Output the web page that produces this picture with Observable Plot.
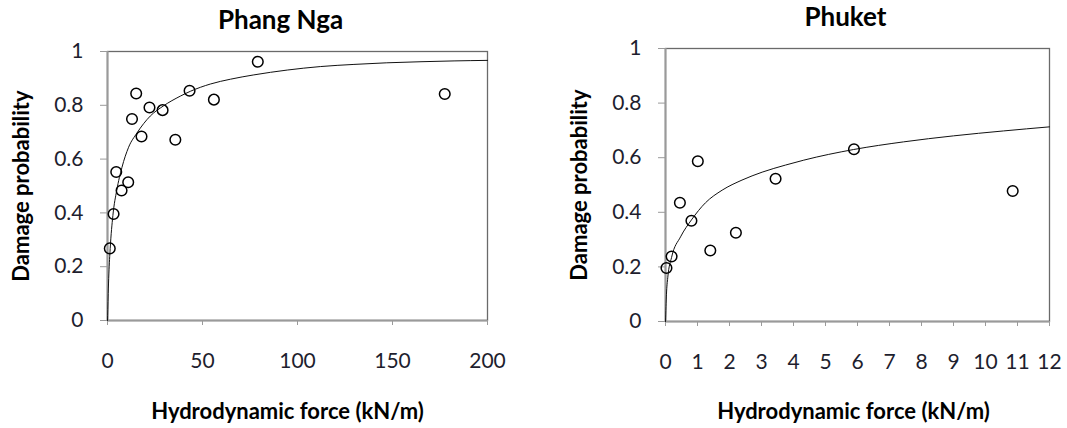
<!DOCTYPE html>
<html>
<head>
<meta charset="utf-8">
<script src="https://cdn.jsdelivr.net/npm/d3@7"></script>
<script src="https://cdn.jsdelivr.net/npm/@observablehq/plot@0.6"></script>
<style>
  html, body { margin: 0; padding: 0; background: #fff; }
  #wrap { position: relative; width: 1067px; height: 428px; overflow: hidden; }
  #wrap svg { position: absolute; top: 0; }
</style>
</head>
<body>
<div id="wrap"></div>
<script>
// ---- data ----
const titles = ["Phang Nga", "Phuket"];
const xLabel = "Hydrodynamic force (kN/m)";
const yLabel = "Damage probability";

const yTicks = [0, 0.2, 0.4, 0.6, 0.8, 1];
const yTickLabels = ["0", "0.2", "0.4", "0.6", "0.8", "1"];

// Phang Nga observations
const phangNgaForce  = [1.2, 3.2, 4.6, 7.4, 10.9, 12.9, 15.1, 17.9, 22.1, 29.0, 35.7, 43.2, 56.0, 79.1, 177.5];
const phangNgaDamage = [0.268, 0.396, 0.552, 0.483, 0.514, 0.749, 0.844, 0.684, 0.792, 0.782, 0.672, 0.854, 0.821, 0.962, 0.842];
// Phang Nga fitted curve
const phangNgaCurveForce  = [0, 0.15, 0.37, 0.72, 1.42, 2.83, 4.9, 7.6, 11.1, 15.5, 22.5, 29.5, 38.3, 43.6, 54.1, 64.7, 77, 94.6, 112, 129.7, 147, 165, 182.4, 200];
const phangNgaCurveDamage = [0, 0.04, 0.10, 0.173, 0.268, 0.39, 0.485, 0.569, 0.644, 0.697, 0.76, 0.798, 0.834, 0.852, 0.879, 0.897, 0.913, 0.931, 0.944, 0.952, 0.958, 0.962, 0.965, 0.967];
const phangNgaXTicks = [0, 50, 100, 150, 200];

// Phuket observations
const phuketForce  = [0.03, 0.19, 0.45, 0.81, 1.01, 1.40, 2.20, 3.44, 5.89, 10.85];
const phuketDamage = [0.196, 0.238, 0.435, 0.369, 0.587, 0.260, 0.325, 0.523, 0.631, 0.478];
// Phuket fitted curve
const phuketCurveForce  = [0, 0.03, 0.07, 0.19, 0.47, 0.81, 1.25, 1.77, 2.39, 3.02, 3.75, 4.32, 5.88, 7.44, 9.0, 10.56, 12];
const phuketCurveDamage = [0, 0.10, 0.16, 0.235, 0.31, 0.372, 0.435, 0.481, 0.518, 0.547, 0.573, 0.591, 0.630, 0.658, 0.680, 0.698, 0.713];
const phuketXTicks = [0, 1, 2, 3, 4, 5, 6, 7, 8, 9, 10, 11, 12];

// ---- drawing ----
const toRows = (xs, ys) => xs.map((x, i) => ({x, y: ys[i]}));

function panel({title, xs, ys, cxs, cys, xTicks, xMax, left, width, margins, titleDx, xLabelDx, xLabelDy}) {
  const pts = toRows(xs, ys);
  const curve = toRows(cxs, cys);
  const svg = Plot.plot({
    width,
    height: 428,
    marginLeft: margins[0],
    marginRight: margins[1],
    marginTop: margins[2],
    marginBottom: margins[3],
    style: {fontFamily: "Lato, 'Open Sans', sans-serif", fontSize: "21px", color: "#1e1e1e", background: "transparent", overflow: "visible"},
    x: {domain: [0, xMax], label: null},
    y: {domain: [0, 1], label: null},
    marks: [
      Plot.frame({stroke: "#6a6a6a", strokeWidth: 1.3}),
      Plot.ruleX([0], {stroke: "#9a9a9a", strokeWidth: 2}),
      Plot.ruleY([0], {stroke: "#9a9a9a", strokeWidth: 2}),
      Plot.axisY({ticks: yTicks, tickFormat: (d, i) => yTickLabels[i], tickSize: 7, tickPadding: 17, fontSize: 21, stroke: "#9a9a9a", fill: "#1e1e2e", label: null}),
      Plot.axisX({ticks: xTicks, tickFormat: d => String(d), tickSize: 5, tickPadding: 28, fontSize: 21, stroke: "#9a9a9a", fill: "#1e1e2e", label: null}),
      Plot.line(curve, {x: "x", y: "y", stroke: "#111", strokeWidth: 1, curve: "monotone-x"}),
      Plot.dot(pts, {x: "x", y: "y", r: 5.3, stroke: "#000", strokeWidth: 1.5, fill: "none"}),
      Plot.text([title], {frameAnchor: "top", lineAnchor: "middle", textAnchor: "middle", dy: -31, dx: titleDx, fontWeight: "bold", fontSize: 26, fill: "#000"}),
      Plot.text([xLabel], {frameAnchor: "bottom", lineAnchor: "middle", textAnchor: "middle", dy: xLabelDy, dx: xLabelDx, fontWeight: "bold", fontSize: 22, fill: "#000"}),
      Plot.text([yLabel], {frameAnchor: "left", lineAnchor: "middle", textAnchor: "middle", dx: -86, rotate: -90, fontWeight: "bold", fontSize: 22, fill: "#000"})
    ]
  });
  svg.style.left = left + "px";
  document.getElementById("wrap").appendChild(svg);
}

panel({title: titles[0], xs: phangNgaForce, ys: phangNgaDamage, cxs: phangNgaCurveForce, cys: phangNgaCurveDamage,
       xTicks: phangNgaXTicks, xMax: 200, left: 0, width: 540, margins: [107, 53, 51, 108], titleDx: -17, xLabelDx: -10, xLabelDy: 91});
panel({title: titles[1], xs: phuketForce, ys: phuketDamage, cxs: phuketCurveForce, cys: phuketCurveDamage,
       xTicks: phuketXTicks, xMax: 12, left: 540, width: 527, margins: [125, 18, 48, 107], titleDx: -12, xLabelDx: -4, xLabelDy: 90});
</script>
</body>
</html>
